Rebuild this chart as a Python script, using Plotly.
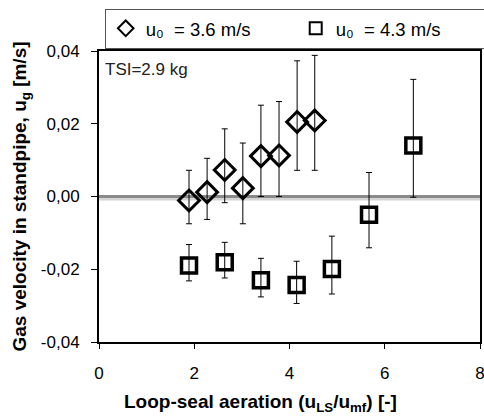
import plotly.graph_objects as go

# Series u0 = 3.6 m/s (diamonds)
x_36 = [1.89, 2.27, 2.64, 3.02, 3.40, 3.78, 4.16, 4.53]
y_36 = [-0.0011, 0.0012, 0.0073, 0.0023, 0.0111, 0.0113, 0.0205, 0.0209]
err_up_36 = [0.0083, 0.0093, 0.0113, 0.0124, 0.0140, 0.0148, 0.0168, 0.0179]
err_dn_36 = [0.0064, 0.0075, 0.0090, 0.0098, 0.0111, 0.0113, 0.0133, 0.0137]

# Series u0 = 4.3 m/s (squares)
x_43 = [1.89, 2.64, 3.40, 4.15, 4.89, 5.67, 6.60]
y_43 = [-0.0190, -0.0181, -0.0230, -0.0243, -0.0199, -0.0050, 0.0140]
err_up_43 = [0.0058, 0.0055, 0.0060, 0.0065, 0.0090, 0.0116, 0.0182]
err_dn_43 = [0.0042, 0.0043, 0.0046, 0.0051, 0.0069, 0.0091, 0.0142]

x_ticks = [0, 2, 4, 6, 8]
x_ticktext = ["0", "2", "4", "6", "8"]
y_ticks = [-0.04, -0.02, 0.0, 0.02, 0.04]
y_ticktext = ["-0,04", "-0,02", "0,00", "0,02", "0,04"]

FONT = "Liberation Sans, Arial, sans-serif"

fig = go.Figure()

fig.add_trace(go.Scatter(
    x=x_36, y=y_36, mode="markers",
    name="u₀  = 3.6 m/s",
    marker=dict(symbol="diamond-open", size=16, color="black", line=dict(width=3, color="black")),
    error_y=dict(type="data", symmetric=False, array=err_up_36, arrayminus=err_dn_36,
                 color="black", thickness=1, width=3),
))
fig.add_trace(go.Scatter(
    x=x_43, y=y_43, mode="markers",
    name="u₀  = 4.3 m/s",
    marker=dict(symbol="square-open", size=15, color="black", line=dict(width=3.5, color="black")),
    error_y=dict(type="data", symmetric=False, array=err_up_43, arrayminus=err_dn_43,
                 color="black", thickness=1, width=3),
))

# zero reference line (gray, with faint shadow)
fig.add_shape(type="line", xref="paper", x0=0, x1=1, yref="y", y0=-0.0007, y1=-0.0007,
              line=dict(color="#d4d4d4", width=3), layer="below")
fig.add_shape(type="line", xref="paper", x0=0, x1=1, yref="y", y0=0, y1=0,
              line=dict(color="#8a8a8a", width=3), layer="below")

fig.add_annotation(text="TSI=2.9 kg", xref="paper", yref="paper", x=0.01, y=0.975,
                   xanchor="left", yanchor="top", showarrow=False,
                   font=dict(family=FONT, size=17, color="#222222"))

# x-axis title (placed as annotation to match the off-centre position)
fig.add_annotation(text="<b>Loop-seal aeration (u<sub>LS</sub>/u<sub>mf</sub>) [-]</b>",
                   xref="paper", yref="paper", x=0.425, y=-0.21,
                   xanchor="center", yanchor="middle", showarrow=False,
                   font=dict(family=FONT, size=19, color="black"))

fig.update_layout(
    width=484, height=419,
    margin=dict(l=99, r=4, t=51, b=77, autoexpand=False),
    paper_bgcolor="white", plot_bgcolor="white",
    font=dict(family=FONT, size=17, color="black"),
    showlegend=True,
    legend=dict(orientation="h", x=0.015, xanchor="left", y=1.145, yanchor="top",
                bordercolor="#555555", borderwidth=1, bgcolor="white",
                font=dict(family=FONT, size=18.5, color="black"),
                entrywidth=145, itemsizing="constant", tracegroupgap=0),
    xaxis=dict(range=[0, 8], tickvals=x_ticks, ticktext=x_ticktext, ticks="outside",
               ticklen=5, tickcolor="black", ticklabelstandoff=10, automargin=False,
               ticklabeloverflow="allow",
               showline=True, linecolor="black", linewidth=2, mirror=True, showgrid=False,
               zeroline=False, tickfont=dict(size=17)),
    yaxis=dict(range=[-0.04, 0.04], tickvals=y_ticks, ticktext=y_ticktext, ticks="outside",
               ticklen=6, tickcolor="black", ticklabelstandoff=8, automargin=False,
               showline=True, linecolor="black", linewidth=2, mirror=True, showgrid=False,
               zeroline=False, tickfont=dict(size=17),
               title=dict(text="<b>Gas velocity in standpipe, u<sub>g</sub> [m/s]</b>",
                          font=dict(size=19), standoff=9)),
)

fig.write_html("out.html", config={"displayModeBar": False},
               post_script="document.body.style.margin='0';document.body.style.overflow='hidden';")
